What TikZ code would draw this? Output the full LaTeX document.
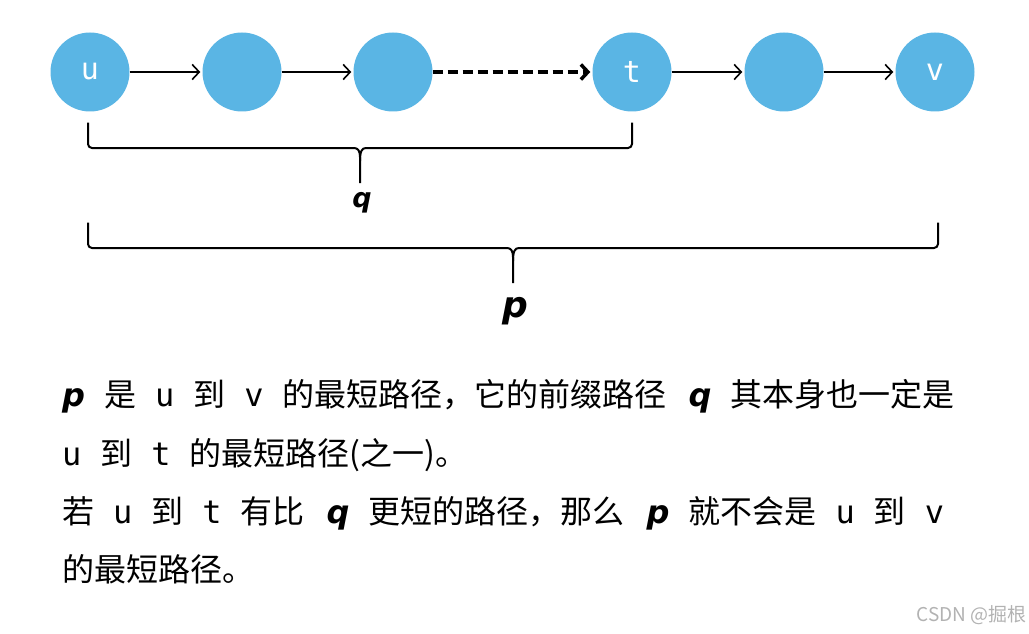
\documentclass[tikz,border=0pt]{standalone}
\usepackage{fontspec}
\setmainfont{Noto Sans CJK SC}
\newfontfamily\codefont{DejaVu Sans Mono}
\newfontfamily\varfont{DejaVu Sans Bold Oblique}
\usetikzlibrary{arrows.meta,calc}
\definecolor{nodeblue}{HTML}{5AB5E4}
\tikzstyle{mynode} = [circle, fill=nodeblue, minimum size=79pt, inner sep=0pt, text=white, font=\fontsize{30}{30}\selectfont\codefont]
\tikzstyle{myarrow} = [draw=black, line width=1.6pt, -{Straight Barb[length=7pt,width=15pt]}, shorten >=2pt]
\tikzstyle{mydash} = [myarrow, line width=3.5pt, dash pattern=on 10pt off 5pt]
\tikzstyle{mybrace} = [draw=black, line width=2pt, rounded corners=4pt]
\tikzstyle{mytext} = [anchor=base west, inner sep=0pt, font=\fontsize{32}{32}\selectfont]
\newcommand{\cv}[1]{\hspace{19pt}{\codefont #1}\hspace{19pt}}
\newcommand{\pq}[1]{\hspace{22pt}{\varfont #1}\hspace{19pt}}

\begin{document}
\begin{tikzpicture}[x=1pt,y=-1pt]
\useasboundingbox (0,0) rectangle (1029,634);
% the path u -> ... -> t -> ... -> v
\node [mynode] (u) at (90,72) {u};
\node [mynode] (a) at (242,72) {};
\node [mynode] (b) at (393,72) {};
\node [mynode] (t) at (632,72) {t};
\node [mynode] (c) at (784,72) {};
\node [mynode] (v) at (935,72) {v};
\draw [myarrow] (u) -- (a);
\draw [myarrow] (a) -- (b);
\draw [mydash] (b) -- (t);
\draw [myarrow] (t) -- (c);
\draw [myarrow] (c) -- (v);

% brace q
\coordinate (qL) at ($(u.south)+(-2,11)$);
\coordinate (qR) at ($(t.south)+(0,11)$);
\coordinate (qM) at (360,148);
\draw [mybrace] (qL) |- ($(qM)+(-10,0)$) .. controls ($(qM)+(-2,0)$) and ($(qM)+(0,3)$) .. ($(qM)+(0,13)$) -- ++(0,22);
\draw [mybrace] ($(qM)+(0,13)$) .. controls ($(qM)+(0,3)$) and ($(qM)+(2,0)$) .. ($(qM)+(10,0)$) -| (qR);
\node [anchor=base, inner sep=0pt, font=\fontsize{27}{27}\selectfont\varfont] (qlab) at (362,207) {q};

% brace p
\coordinate (pL) at ($(u.south)+(-2,111)$);
\coordinate (pR) at ($(v.south)+(3,111)$);
\coordinate (pM) at (513,248);
\draw [mybrace] (pL) |- ($(pM)+(-10,0)$) .. controls ($(pM)+(-2,0)$) and ($(pM)+(0,3)$) .. ($(pM)+(0,13)$) -- ++(0,22);
\draw [mybrace] ($(pM)+(0,13)$) .. controls ($(pM)+(0,3)$) and ($(pM)+(2,0)$) .. ($(pM)+(10,0)$) -| (pR);
\node [anchor=base, inner sep=0pt, font=\fontsize{36}{36}\selectfont\varfont] (plab) at (515,317) {p};

% explanation
\node [mytext] (line1) at (62,406) {{\varfont p}\hspace{19pt}是\cv{u}到\cv{v}的最短路径，它的前缀路径\pq{q}其本身也一定是};
\node [mytext] (line2) at (62,465) {{\codefont u}\hspace{19pt}到\cv{t}的最短路径(之一)。};
\node [mytext] (line3) at (62,523) {若\cv{u}到\cv{t}有比\pq{q}更短的路径，那么\pq{p}就不会是\cv{u}到\cv{v}};
\node [mytext] (line4) at (62,581) {的最短路径。};

\node [anchor=east, inner sep=0pt, text=black!30, font=\fontsize{19}{19}\selectfont] (mark) at (1027,615) {CSDN @掘根};
\end{tikzpicture}
\end{document}
